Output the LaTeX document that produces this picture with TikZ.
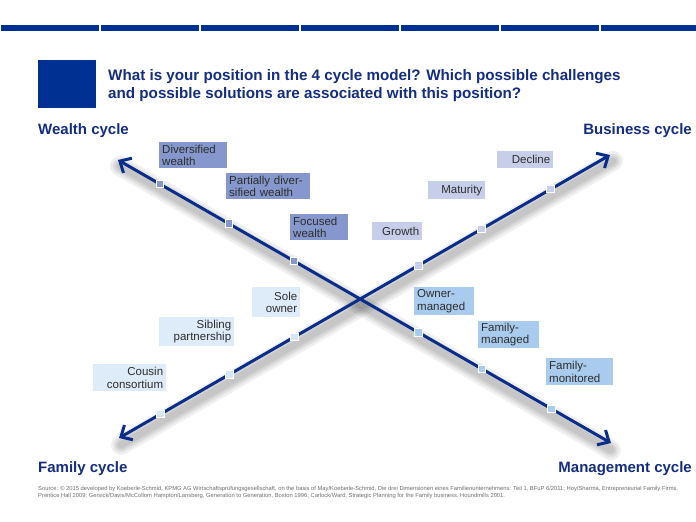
\documentclass[tikz,border=0pt]{standalone}
\usepackage{fontspec}
\setmainfont{Liberation Sans}
\usetikzlibrary{arrows.meta,calc}
\definecolor{navy}{RGB}{0,48,145}
\definecolor{titleblue}{RGB}{20,45,130}
\definecolor{arrowblue}{RGB}{10,45,140}
\definecolor{wealthc}{RGB}{133,151,204}
\definecolor{businessc}{RGB}{199,206,234}
\definecolor{familyc}{RGB}{222,235,248}
\definecolor{mgmtc}{RGB}{169,204,238}
\definecolor{txt}{RGB}{45,45,45}
\definecolor{foot}{RGB}{110,110,110}
\tikzset{
  lbl/.style={inner xsep=3pt, inner ysep=0pt, anchor=north west, text=txt,
    font=\fontsize{11.5}{12.6}\selectfont},
  cyclelbl/.style={text=titleblue, font=\fontsize{15}{17}\selectfont\bfseries, inner sep=0pt},
  marker/.style={draw=white, line width=1pt, minimum size=7.5pt, inner sep=0pt},
  mainarrow/.style={draw=arrowblue, line width=3pt,
    {Straight Barb[length=9pt,width=17pt]}-{Straight Barb[length=9pt,width=17pt]}},
  shadowline/.style={draw=black, opacity=0.06, line cap=round},
}
\begin{document}
\begin{tikzpicture}[x=1pt,y=-1pt]
\useasboundingbox (0,0) rectangle (696,522);
\fill[white] (0,0) rectangle (696,522);

% top bar
\foreach \i in {0,...,6}
  \fill[navy] ({\i*100+1.2},24.5) rectangle ({\i*100+98.8},31);

% title
\node[fill=navy, minimum width=58pt, minimum height=48pt, inner sep=0pt, anchor=north west] (sq) at (38,60) {};
\node[anchor=base west, align=left, inner sep=0pt, text=titleblue,
  font=\fontsize{15.2}{18}\selectfont\bfseries] (title) at (108,98.5)
  {What is your position in the 4 cycle model? Which possible challenges\\and possible solutions are associated with this position?};

% cycle labels
\node[cyclelbl, anchor=base west] (wl) at (38,134) {Wealth cycle};
\node[cyclelbl, anchor=base east] (bl) at (692,134) {Business cycle};
\node[cyclelbl, anchor=base west] (fl) at (38,472) {Family cycle};
\node[cyclelbl, anchor=base east] (ml) at (692,472) {Management cycle};

% arrow end points
\coordinate (W) at (118,160);
\coordinate (M) at (611,443);
\coordinate (F) at (119,438);
\coordinate (B) at (610,155);

% shadows
\foreach \w in {20,15,11,7}{
  \draw[shadowline, line width=\w pt] ($(W)+(2,6)$) -- ($(M)+(0,7)$);
  \draw[shadowline, line width=\w pt] ($(F)+(2,7)$) -- ($(B)+(3,6)$);
}

% arrows
\draw[mainarrow] (W) -- (M);
\draw[mainarrow] (F) -- (B);

% markers
\foreach \t/\n in {0.085/1,0.225/2,0.357/3}{
  \node[marker, fill=wealthc] (mw\n) at ($(W)!\t!(M)$) {};
  \node[marker, fill=familyc!85!mgmtc] (mf\n) at ($(F)!\t!(B)$) {};
}
\foreach \t/\n in {0.61/1,0.738/2,0.879/3}{
  \node[marker, fill=mgmtc] (mm\n) at ($(W)!\t!(M)$) {};
  \node[marker, fill=businessc] (mb\n) at ($(F)!\t!(B)$) {};
}

% wealth boxes
\node[lbl, fill=wealthc, text width=62pt, minimum height=26pt, align=left] (w1) at (159,142) {Diversified\\wealth};
\node[lbl, fill=wealthc, text width=78pt, minimum height=26pt, align=left] (w2) at (226,173) {Partially diver-\\sified wealth};
\node[lbl, fill=wealthc, text width=52pt, minimum height=26pt, align=left] (w3) at (290,214) {Focused\\wealth};

% business boxes
\node[lbl, fill=businessc, text width=50pt, minimum height=17pt, align=right] (b3) at (497,151) {Decline};
\node[lbl, fill=businessc, text width=51pt, minimum height=18pt, align=right] (b2) at (428,181) {Maturity};
\node[lbl, fill=businessc, text width=44pt, minimum height=18pt, align=right] (b1) at (372,222) {Growth};

% family boxes
\node[lbl, fill=familyc, text width=42pt, minimum height=30pt, align=right] (f1) at (252,287) {Sole\\owner};
\node[lbl, fill=familyc, text width=69pt, minimum height=29pt, align=right] (f2) at (159,317) {Sibling\\partnership};
\node[lbl, fill=familyc, text width=67pt, minimum height=27pt, align=right] (f3) at (93,364) {Cousin\\consortium};

% management boxes
\node[lbl, fill=mgmtc, text width=54pt, minimum height=28pt, align=left] (m1) at (414,287) {Owner-\\managed};
\node[lbl, fill=mgmtc, text width=55pt, minimum height=27pt, align=left] (m2) at (478,321) {Family-\\managed};
\node[lbl, fill=mgmtc, text width=61pt, minimum height=27pt, align=left] (m3) at (546,358) {Family-\\monitored};

% footnote
\node[anchor=base west, align=left, inner sep=0pt, text=foot,
  font=\fontsize{5.8}{6.6}\selectfont] (src) at (38,497)
  {Source: © 2015 developed by Koeberle-Schmid, KPMG AG Wirtschaftsprüfungsgesellschaft, on the basis of May/Koeberle-Schmid, Die drei Dimensionen eines Familienunternehmens: Teil 1, BFuP 6/2011; Hoy/Sharma, Entrepreneurial Family Firms,\\Prentice Hall 2009; Gersick/Davis/McCollom Hampton/Lansberg, Generation to Generation, Boston 1996; Carlock/Ward, Strategic Planning for the Family business, Houndmills 2001.};
\end{tikzpicture}
\end{document}
